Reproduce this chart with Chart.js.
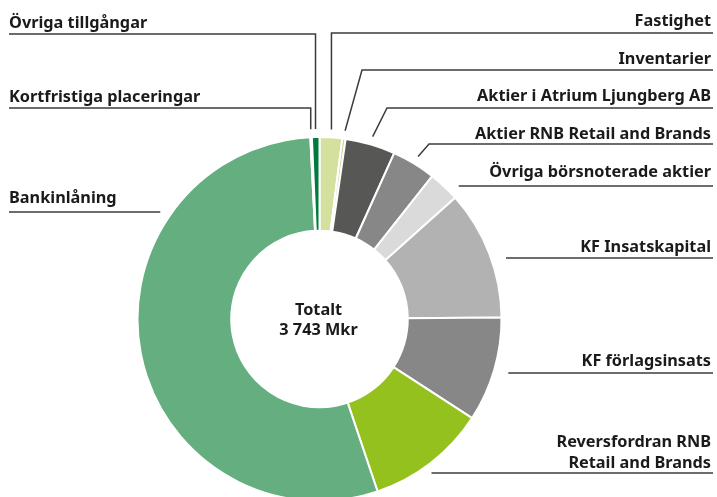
<!DOCTYPE html>
<html>
<head>
<meta charset="utf-8">
<script src="https://cdn.jsdelivr.net/npm/chart.js@4/dist/chart.umd.min.js"></script>
<style>
  html, body { margin: 0; padding: 0; background: #fff; overflow: hidden; }
  #wrap { width: 717px; height: 501px; position: relative; }
</style>
</head>
<body>
<div id="wrap"><canvas id="assets"></canvas></div>
<script>
// Mkr, clockwise from 12 o'clock
const categories = [
  'Fastighet',
  'Inventarier',
  'Aktier i Atrium Ljungberg AB',
  'Aktier RNB Retail and Brands',
  'Övriga börsnoterade aktier',
  'KF Insatskapital',
  'KF förlagsinsats',
  'Reversfordran RNB Retail and Brands',
  'Bankinlåning',
  'Kortfristiga placeringar',
  'Övriga tillgångar'
];
const values = [75, 11, 166, 146, 103, 430, 348, 399, 2035, 5, 25];
const colors = ['#d3e09e', '#c9d98c', '#575756', '#878787', '#dadada', '#b2b2b2',
                '#878787', '#95c11f', '#64ae80', '#3f9e63', '#007a3d'];

// label placement: i = slice index, lines = text rows, y = baselines, ly = leader line y
const labelLayout = [
  { i: 10, side: 'left',  lines: ['Övriga tillgångar'], y: [28], ly: 34, kind: 'vertical' },
  { i: 9,  side: 'left',  lines: ['Kortfristiga placeringar'], y: [102], ly: 108, kind: 'vertical' },
  { i: 8,  side: 'left',  lines: ['Bankinlåning'], y: [203], ly: 212, kind: 'free' },
  { i: 0,  side: 'right', lines: ['Fastighet'], y: [26], ly: 33, kind: 'vertical' },
  { i: 1,  side: 'right', lines: ['Inventarier'], y: [64], ly: 70, kind: 'elbow', ex: 362 },
  { i: 2,  side: 'right', lines: ['Aktier i Atrium Ljungberg AB'], y: [101], ly: 108, kind: 'elbow', ex: 387 },
  { i: 3,  side: 'right', lines: ['Aktier RNB Retail and Brands'], y: [139], ly: 144, kind: 'elbow', ex: 429 },
  { i: 4,  side: 'right', lines: ['Övriga börsnoterade aktier'], y: [177], ly: 186, kind: 'free' },
  { i: 5,  side: 'right', lines: ['KF Insatskapital'], y: [252], ly: 258, kind: 'free' },
  { i: 6,  side: 'right', lines: ['KF förlagsinsats'], y: [366], ly: 373, kind: 'free' },
  { i: 7,  side: 'right', lines: ['Reversfordran RNB', 'Retail and Brands'], y: [447, 468], ly: 473, kind: 'free' }
];

const FONT = 'bold 16.3px "Noto Sans", "Open Sans", sans-serif';
const total = values.reduce((a, b) => a + b, 0);
const totalText = String(total).replace(/\B(?=(\d{3})+(?!\d))/g, ' ') + ' Mkr';

const labelsPlugin = {
  id: 'labels',
  afterDraw(chart) {
    const ctx = chart.ctx;
    const arcs = chart.getDatasetMeta(0).data;
    const cx = arcs[0].x, cy = arcs[0].y, R = arcs[0].outerRadius;
    ctx.save();
    ctx.font = FONT;
    ctx.fillStyle = '#1a1a1a';
    ctx.strokeStyle = '#3c3c3c';
    ctx.lineWidth = 1.5;

    labelLayout.forEach(l => {
      const a = arcs[l.i];
      const mid = (a.startAngle + a.endAngle) / 2;
      const px = cx + Math.cos(mid) * (R + 8);
      const py = cy + Math.sin(mid) * (R + 8);

      ctx.textAlign = l.side === 'left' ? 'left' : 'right';
      ctx.textBaseline = 'alphabetic';
      l.lines.forEach((t, k) => ctx.fillText(t, l.side === 'left' ? 9 : 711, l.y[k]));

      ctx.beginPath();
      if (l.kind === 'vertical') {
        ctx.moveTo(l.side === 'left' ? 9 : 713, l.ly);
        ctx.lineTo(px, l.ly);
        ctx.lineTo(px, py);
      } else if (l.kind === 'elbow') {
        ctx.moveTo(713, l.ly);
        ctx.lineTo(l.ex, l.ly);
        ctx.lineTo(px, py);
      } else {
        const dy = l.ly - cy;
        const dx = Math.sqrt(Math.max(R * R - dy * dy, 0));
        if (l.side === 'left') {
          ctx.moveTo(9, l.ly);
          ctx.lineTo(cx - dx - 12, l.ly);
        } else {
          ctx.moveTo(cx + dx + 15, l.ly);
          ctx.lineTo(713, l.ly);
        }
      }
      ctx.stroke();
    });

    ctx.textAlign = 'center';
    ctx.fillText('Totalt', cx - 1, cy - 4);
    ctx.fillText(totalText, cx - 1, cy + 16);
    ctx.restore();
  }
};

new Chart(document.getElementById('assets'), {
  type: 'doughnut',
  data: {
    labels: categories,
    datasets: [{
      data: values,
      backgroundColor: colors,
      borderColor: '#ffffff',
      borderWidth: 2
    }]
  },
  options: {
    responsive: true,
    maintainAspectRatio: false,
    animation: false,
    radius: 182,
    cutout: '48.5%',
    layout: { padding: { left: 138, right: 216, top: 137, bottom: 0 } },
    plugins: { legend: { display: false }, tooltip: { enabled: false } }
  },
  plugins: [labelsPlugin]
});
</script>
</body>
</html>
